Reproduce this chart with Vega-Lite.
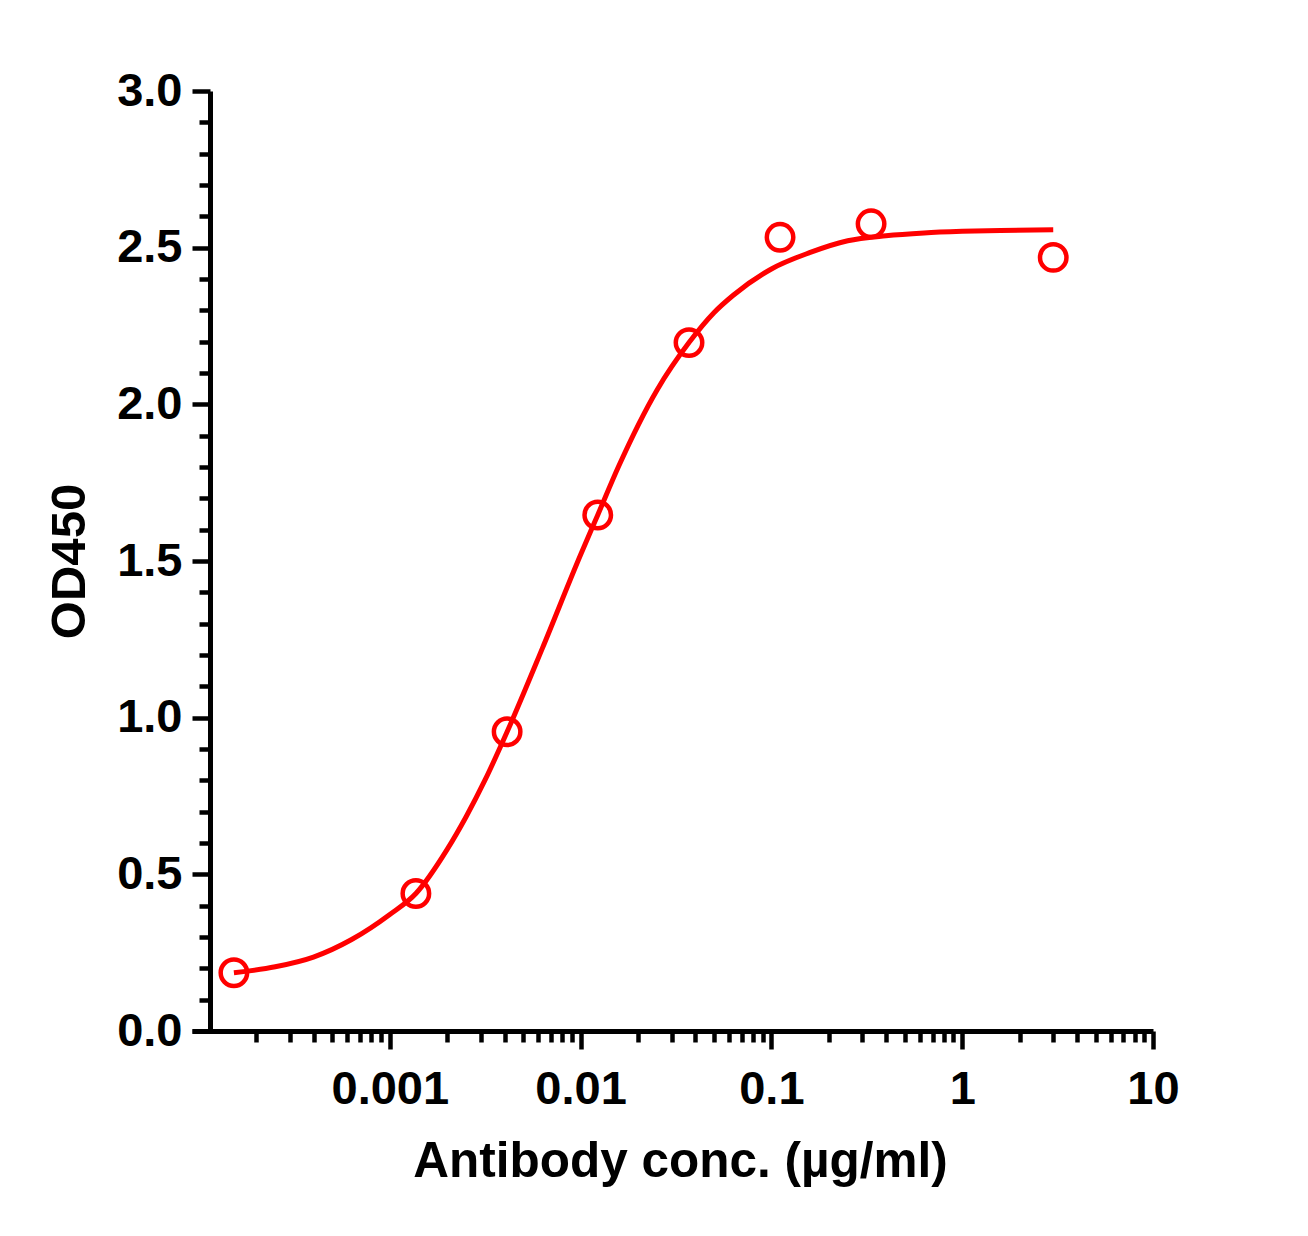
{
  "$schema": "https://vega.github.io/schema/vega-lite/v6.json",
  "width": 961,
  "height": 940,
  "autosize": {"type": "none"},
  "padding": {"left": 192, "top": 91, "right": 155, "bottom": 205},
  "background": "white",
  "datasets": {
    "curve": [
      {"conc": 0.0001524, "od": 0.186},
      {"conc": 0.000251, "od": 0.205},
      {"conc": 0.000398, "od": 0.236},
      {"conc": 0.000631, "od": 0.292},
      {"conc": 0.001, "od": 0.372},
      {"conc": 0.00137, "od": 0.439},
      {"conc": 0.001995, "od": 0.579},
      {"conc": 0.002512, "od": 0.684},
      {"conc": 0.003162, "od": 0.802},
      {"conc": 0.00412, "od": 0.955},
      {"conc": 0.00631, "od": 1.222},
      {"conc": 0.01, "od": 1.52},
      {"conc": 0.0123, "od": 1.647},
      {"conc": 0.01585, "od": 1.803},
      {"conc": 0.02512, "od": 2.045},
      {"conc": 0.037, "od": 2.197},
      {"conc": 0.05012, "od": 2.293},
      {"conc": 0.0631, "od": 2.348},
      {"conc": 0.1, "od": 2.432},
      {"conc": 0.1585, "od": 2.484},
      {"conc": 0.2512, "od": 2.522},
      {"conc": 0.3981, "od": 2.538},
      {"conc": 0.631, "od": 2.547},
      {"conc": 1, "od": 2.552},
      {"conc": 1.585, "od": 2.555},
      {"conc": 3, "od": 2.557}
    ],
    "points": [
      {"conc": 0.0001524, "od": 0.186},
      {"conc": 0.00137, "od": 0.439},
      {"conc": 0.00412, "od": 0.955},
      {"conc": 0.0123, "od": 1.647},
      {"conc": 0.037, "od": 2.197},
      {"conc": 0.111, "od": 2.533},
      {"conc": 0.333, "od": 2.576},
      {"conc": 3, "od": 2.469}
    ]
  },
  "encoding": {
    "x": {
      "field": "conc",
      "type": "quantitative",
      "scale": {"type": "log", "domain": [0.0000919, 10], "nice": false},
      "axis": {
        "title": "Antibody conc. (µg/ml)",
        "titleFontSize": 49.5,
        "titlePadding": 25,
        "titleX": 488,
        "values": [
          0.0002, 0.0003, 0.0004, 0.0005, 0.0006, 0.0007, 0.0008, 0.0009,
          0.001, 0.002, 0.003, 0.004, 0.005, 0.006, 0.007, 0.008, 0.009,
          0.01, 0.02, 0.03, 0.04, 0.05, 0.06, 0.07, 0.08, 0.09,
          0.1, 0.2, 0.3, 0.4, 0.5, 0.6, 0.7, 0.8, 0.9,
          1, 2, 3, 4, 5, 6, 7, 8, 9, 10
        ],
        "labelExpr": "abs(log(datum.value)/LN10 - round(log(datum.value)/LN10)) < 0.001 ? format(datum.value, '~g') : ''",
        "tickSize": {
          "condition": {"test": "abs(log(datum.value)/LN10 - round(log(datum.value)/LN10)) < 0.001", "value": 18},
          "value": 11
        },
        "labelPadding": 17,
        "labelFontSize": 47
      }
    },
    "y": {
      "field": "od",
      "type": "quantitative",
      "scale": {"domain": [0, 3], "nice": false},
      "axis": {
        "title": "OD450",
        "titleFontSize": 49,
        "titlePadding": 22,
        "offset": -18,
        "values": [
          0, 0.1, 0.2, 0.3, 0.4, 0.5, 0.6, 0.7, 0.8, 0.9,
          1, 1.1, 1.2, 1.3, 1.4, 1.5, 1.6, 1.7, 1.8, 1.9,
          2, 2.1, 2.2, 2.3, 2.4, 2.5, 2.6, 2.7, 2.8, 2.9, 3
        ],
        "labelExpr": "abs(datum.value*2 - round(datum.value*2)) < 0.001 ? format(datum.value, '.1f') : ''",
        "tickSize": {
          "condition": {"test": "abs(datum.value*2 - round(datum.value*2)) < 0.001", "value": 18},
          "value": 11
        },
        "labelPadding": 10,
        "labelFontSize": 47
      }
    }
  },
  "layer": [
    {
      "data": {"name": "curve"},
      "mark": {"type": "line", "color": "#ff0000", "strokeWidth": 5, "interpolate": "monotone"}
    },
    {
      "data": {"name": "points"},
      "mark": {"type": "point", "shape": "circle", "filled": false, "stroke": "#ff0000", "strokeWidth": 4.5, "size": 700, "opacity": 1}
    }
  ],
  "config": {
    "view": {"stroke": null},
    "font": "Liberation Sans",
    "axis": {
      "grid": false,
      "domainColor": "black",
      "domainWidth": 5,
      "tickColor": "black",
      "tickWidth": 4.5,
      "labelColor": "black",
      "labelFont": "Liberation Sans",
      "labelFontWeight": "bold",
      "labelOverlap": false,
      "labelFlush": false,
      "labelBound": false,
      "titleColor": "black",
      "titleFont": "Liberation Sans",
      "titleFontWeight": "bold"
    }
  }
}
